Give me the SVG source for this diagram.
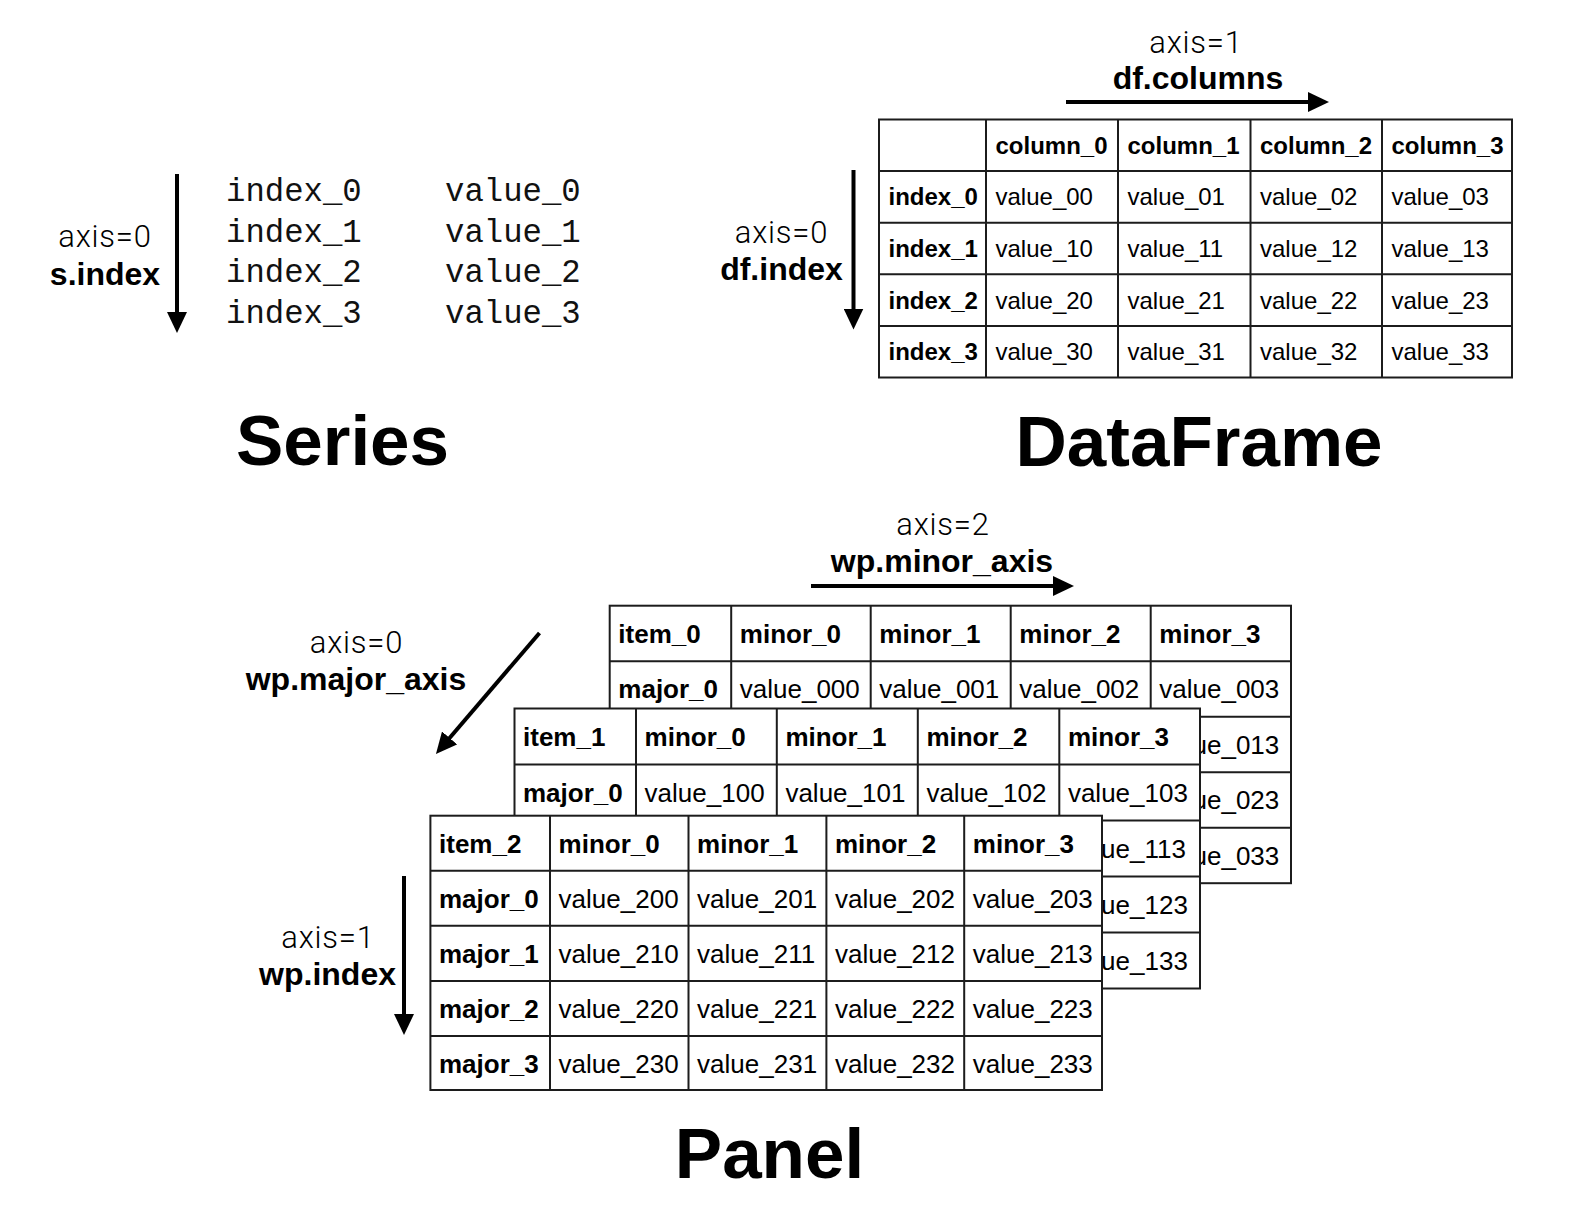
<svg xmlns="http://www.w3.org/2000/svg" width="1588" height="1212" viewBox="0 0 1588 1212">
<defs>
<style>
.lt{font-family:Roboto,"Liberation Sans",Arial,sans-serif;font-weight:300;font-size:31px;letter-spacing:0.8px;fill:#000;text-anchor:middle}
.lb{font-family:"Liberation Sans",Arial,Helvetica,sans-serif;font-weight:bold;font-size:32px;fill:#000}
.ttl{font-family:"Liberation Sans",Arial,Helvetica,sans-serif;font-weight:bold;font-size:71px;fill:#000;text-anchor:middle}
.mono{font-family:"Liberation Mono","Courier New",monospace;font-size:32.3px;fill:#111}
.tb{fill:#fff;stroke:#1c1c1c;stroke-width:2}
.gl{fill:none;stroke:#1c1c1c;stroke-width:2}
.dh{font-family:"Liberation Sans",Arial,Helvetica,sans-serif;font-weight:bold;font-size:24px;fill:#000}
.dv{font-family:"Liberation Sans",Arial,Helvetica,sans-serif;font-size:24px;fill:#000}
.ph{font-family:"Liberation Sans",Arial,Helvetica,sans-serif;font-weight:bold;font-size:26px;fill:#000}
.pv{font-family:"Liberation Sans",Arial,Helvetica,sans-serif;font-size:26px;fill:#000}
.ar{stroke:#000;stroke-width:4;fill:none;marker-end:url(#ah)}
</style>
<marker id="ah" markerUnits="userSpaceOnUse" markerWidth="21" markerHeight="20" refX="2" refY="10" orient="auto">
<path d="M0,0 L21,10 L0,20 z" fill="#000"/>
</marker>
</defs>
<rect width="1588" height="1212" fill="#fff"/>

<g id="series">
<text class="lt" x="105" y="247">axis=0</text>
<text class="lb" x="105" y="285" text-anchor="middle">s.index</text>
<text class="mono" x="226" y="201">index_0</text>
<text class="mono" x="226" y="241.5">index_1</text>
<text class="mono" x="226" y="282">index_2</text>
<text class="mono" x="226" y="322.5">index_3</text>
<text class="mono" x="445" y="201">value_0</text>
<text class="mono" x="445" y="241.5">value_1</text>
<text class="mono" x="445" y="282">value_2</text>
<text class="mono" x="445" y="322.5">value_3</text>
<text class="ttl" x="342.5" y="465">Series</text>
</g>

<g id="dataframe">
<text class="lt" x="1196" y="52.5">axis=1</text>
<text class="lb" x="1198" y="88.5" text-anchor="middle">df.columns</text>
<text class="lt" x="781.5" y="242.5">axis=0</text>
<text class="lb" x="781.5" y="280" text-anchor="middle">df.index</text>
<rect class="tb" x="879" y="119.5" width="633" height="258"/>
<path class="gl" d="M986,119.5V377.5M1118,119.5V377.5M1250.5,119.5V377.5M1382,119.5V377.5M879,171.1H1512M879,222.7H1512M879,274.3H1512M879,325.9H1512"/>
<text class="dh" x="995.5" y="153.8">column_0</text>
<text class="dh" x="1127.5" y="153.8">column_1</text>
<text class="dh" x="1260" y="153.8">column_2</text>
<text class="dh" x="1391.5" y="153.8">column_3</text>
<text class="dh" x="888.5" y="205.4">index_0</text>
<text class="dh" x="888.5" y="257">index_1</text>
<text class="dh" x="888.5" y="308.6">index_2</text>
<text class="dh" x="888.5" y="360.2">index_3</text>
<text class="dv" x="995.5" y="205.4">value_00</text>
<text class="dv" x="1127.5" y="205.4">value_01</text>
<text class="dv" x="1260" y="205.4">value_02</text>
<text class="dv" x="1391.5" y="205.4">value_03</text>
<text class="dv" x="995.5" y="257">value_10</text>
<text class="dv" x="1127.5" y="257">value_11</text>
<text class="dv" x="1260" y="257">value_12</text>
<text class="dv" x="1391.5" y="257">value_13</text>
<text class="dv" x="995.5" y="308.6">value_20</text>
<text class="dv" x="1127.5" y="308.6">value_21</text>
<text class="dv" x="1260" y="308.6">value_22</text>
<text class="dv" x="1391.5" y="308.6">value_23</text>
<text class="dv" x="995.5" y="360.2">value_30</text>
<text class="dv" x="1127.5" y="360.2">value_31</text>
<text class="dv" x="1260" y="360.2">value_32</text>
<text class="dv" x="1391.5" y="360.2">value_33</text>
<text class="ttl" x="1199" y="466">DataFrame</text>
</g>

<g id="panel-labels">
<text class="lt" x="943" y="535">axis=2</text>
<text class="lb" x="942" y="572" text-anchor="middle">wp.minor_axis</text>
<text class="lt" x="356.5" y="652.5">axis=0</text>
<text class="lb" x="356" y="690" text-anchor="middle">wp.major_axis</text>
<text class="lt" x="328" y="947.5">axis=1</text>
<text class="lb" x="396" y="985" text-anchor="end">wp.index</text>
<text class="ttl" x="769.5" y="1177.5">Panel</text>
</g>

<g id="item_0">
<rect class="tb" x="609.7" y="605.7" width="681.3" height="277.5"/>
<path class="gl" d="M731.2,605.7V883.2M870.7,605.7V883.2M1010.7,605.7V883.2M1150.7,605.7V883.2M609.7,661.2H1291M609.7,716.7H1291M609.7,772.2H1291M609.7,827.7H1291"/>
<text class="ph" x="618.3" y="642.9">item_0</text>
<text class="ph" x="739.8" y="642.9">minor_0</text>
<text class="ph" x="879.3" y="642.9">minor_1</text>
<text class="ph" x="1019.3" y="642.9">minor_2</text>
<text class="ph" x="1159.3" y="642.9">minor_3</text>
<text class="ph" x="618.3" y="698.4">major_0</text>
<text class="pv" x="739.8" y="698.4">value_000</text>
<text class="pv" x="879.3" y="698.4">value_001</text>
<text class="pv" x="1019.3" y="698.4">value_002</text>
<text class="pv" x="1159.3" y="698.4">value_003</text>
<text class="pv" x="1192.5" y="753.9">ue_013</text>
<text class="pv" x="1192.5" y="809.4">ue_023</text>
<text class="pv" x="1192.5" y="864.9">ue_033</text>
</g>

<g id="item_1">
<rect class="tb" x="514.5" y="708.5" width="685.5" height="280"/>
<path class="gl" d="M636,708.5V988.5M776.8,708.5V988.5M917.8,708.5V988.5M1059.3,708.5V988.5M514.5,764.5H1200M514.5,820.5H1200M514.5,876.5H1200M514.5,932.5H1200"/>
<text class="ph" x="523" y="746">item_1</text>
<text class="ph" x="644.6" y="746">minor_0</text>
<text class="ph" x="785.4" y="746">minor_1</text>
<text class="ph" x="926.4" y="746">minor_2</text>
<text class="ph" x="1067.9" y="746">minor_3</text>
<text class="ph" x="523" y="802">major_0</text>
<text class="pv" x="644.6" y="802">value_100</text>
<text class="pv" x="785.4" y="802">value_101</text>
<text class="pv" x="926.4" y="802">value_102</text>
<text class="pv" x="1067.9" y="802">value_103</text>
<text class="pv" x="1101.1" y="858">ue_113</text>
<text class="pv" x="1101.1" y="914">ue_123</text>
<text class="pv" x="1101.1" y="970">ue_133</text>
</g>

<g id="item_2">
<rect class="tb" x="430.4" y="815.7" width="671.6" height="274.3"/>
<path class="gl" d="M550,815.7V1090M688.5,815.7V1090M826.4,815.7V1090M964.2,815.7V1090M430.4,870.7H1102M430.4,925.8H1102M430.4,980.9H1102M430.4,1036H1102"/>
<text class="ph" x="439" y="852.7">item_2</text>
<text class="ph" x="558.6" y="852.7">minor_0</text>
<text class="ph" x="697.1" y="852.7">minor_1</text>
<text class="ph" x="835" y="852.7">minor_2</text>
<text class="ph" x="972.8" y="852.7">minor_3</text>
<text class="ph" x="439" y="907.8">major_0</text>
<text class="ph" x="439" y="962.9">major_1</text>
<text class="ph" x="439" y="1018">major_2</text>
<text class="ph" x="439" y="1073">major_3</text>
<text class="pv" x="558.6" y="907.8">value_200</text>
<text class="pv" x="697.1" y="907.8">value_201</text>
<text class="pv" x="835" y="907.8">value_202</text>
<text class="pv" x="972.8" y="907.8">value_203</text>
<text class="pv" x="558.6" y="962.9">value_210</text>
<text class="pv" x="697.1" y="962.9">value_211</text>
<text class="pv" x="835" y="962.9">value_212</text>
<text class="pv" x="972.8" y="962.9">value_213</text>
<text class="pv" x="558.6" y="1018">value_220</text>
<text class="pv" x="697.1" y="1018">value_221</text>
<text class="pv" x="835" y="1018">value_222</text>
<text class="pv" x="972.8" y="1018">value_223</text>
<text class="pv" x="558.6" y="1073">value_230</text>
<text class="pv" x="697.1" y="1073">value_231</text>
<text class="pv" x="835" y="1073">value_232</text>
<text class="pv" x="972.8" y="1073">value_233</text>
</g>

<g id="connectors">
<line class="ar" x1="177" y1="174" x2="177" y2="314"/>
<line class="ar" x1="853.5" y1="170" x2="853.5" y2="310.5"/>
<line class="ar" x1="1066" y1="102" x2="1310" y2="102"/>
<line class="ar" x1="811" y1="586" x2="1055" y2="586"/>
<line class="ar" x1="539.5" y1="633" x2="448.3" y2="739.5"/>
<line class="ar" x1="404" y1="876" x2="404" y2="1016"/>
</g>
</svg>
